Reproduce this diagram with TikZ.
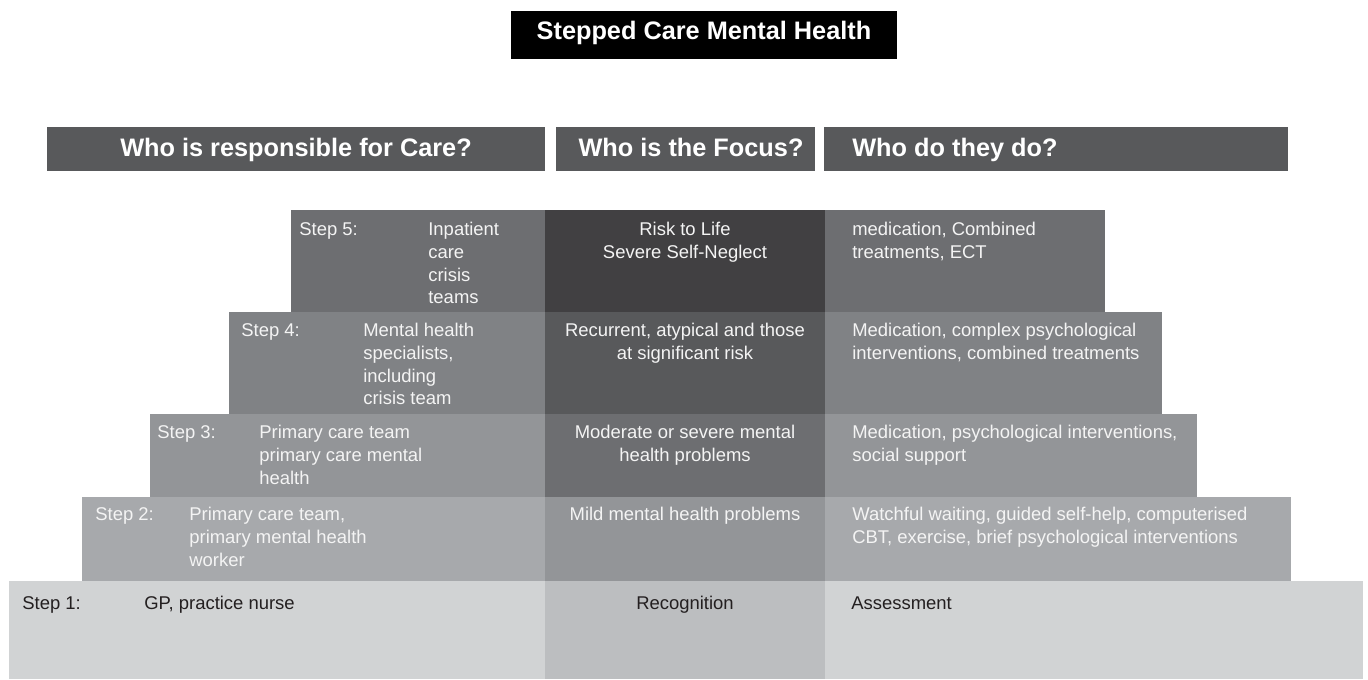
\documentclass[tikz,border=0pt]{standalone}
\usepackage{fontspec}
\setmainfont{Liberation Sans}
\definecolor{hdrgrey}{HTML}{58595B}
\definecolor{sideA}{HTML}{6D6E71}
\definecolor{midA}{HTML}{414042}
\definecolor{sideB}{HTML}{808285}
\definecolor{midB}{HTML}{58595B}
\definecolor{sideC}{HTML}{939598}
\definecolor{midC}{HTML}{6D6E71}
\definecolor{sideD}{HTML}{A7A9AC}
\definecolor{midD}{HTML}{939598}
\definecolor{sideE}{HTML}{D1D3D4}
\definecolor{midE}{HTML}{BCBEC0}
\definecolor{lighttext}{HTML}{F4F4F4}
\definecolor{darktext}{HTML}{231F20}

\begin{document}
\begin{tikzpicture}[x=0.02cm,y=-0.02cm]
\tikzset{hdr/.style = {inner sep=0, anchor=base, text=white, font=\fontsize{14.4}{17}\selectfont\bfseries}}
\tikzset{txt/.style = {inner sep=0, align=left, anchor=north west, text=lighttext, font=\fontsize{10.5}{12.9}\selectfont}}
\tikzset{midtxt/.style = {txt, align=center, anchor=north}}

\useasboundingbox (0,0) rectangle (1368,679);

% title
\fill[black] (511,11) rectangle (897,59);
\node[hdr] (title) at (704,40) {Stepped Care Mental Health};

% column headers
\fill[hdrgrey] (47,127) rectangle (545,171);
\fill[hdrgrey] (556,127) rectangle (815,171);
\fill[hdrgrey] (824,127) rectangle (1288,171);
\node[hdr] (who) at (296,156) {Who is responsible for Care?};
\node[hdr] (focus) at (691,156) {Who is the Focus?};
\node[hdr, anchor=base west] (what) at (852,156) {Who do they do?};

% steps: left/right/top/bottom/side colour/middle colour
\foreach \l/\r/\t/\b/\cs/\cm in {291/1105/210/312/sideA/midA,
    229/1162/312/414/sideB/midB, 150/1197/414/497/sideC/midC,
    82/1291/497/581/sideD/midD, 9/1363/581/679/sideE/midE}{
  \fill[\cs] (\l,\t) rectangle (\r,\b);
  \fill[\cm] (545,\t) rectangle (825,\b);
}

% step 5
\node[txt] (s5) at (299,222) {Step 5:};
\node[txt] (who5) at (428,222) {Inpatient\\care\\crisis\\teams};
\node[midtxt] (focus5) at (685,222) {Risk to Life\\Severe Self-Neglect};
\node[txt] (what5) at (852,222) {medication, Combined\\treatments, ECT};

% step 4
\node[txt] (s4) at (241,323) {Step 4:};
\node[txt] (who4) at (363,323) {Mental health\\specialists,\\including\\crisis team};
\node[midtxt] (focus4) at (685,323) {Recurrent, atypical and those\\at significant risk};
\node[txt] (what4) at (852,323) {Medication, complex psychological\\interventions, combined treatments};

% step 3
\node[txt] (s3) at (157,425) {Step 3:};
\node[txt] (who3) at (259,425) {Primary care team\\primary care mental\\health};
\node[midtxt] (focus3) at (685,425) {Moderate or severe mental\\health problems};
\node[txt] (what3) at (852,425) {Medication, psychological interventions,\\social support};

% step 2
\node[txt] (s2) at (95,507) {Step 2:};
\node[txt] (who2) at (189,507) {Primary care team,\\primary mental health\\worker};
\node[midtxt] (focus2) at (685,507) {Mild mental health problems};
\node[txt] (what2) at (852,507) {Watchful waiting, guided self-help, computerised\\CBT, exercise, brief psychological interventions};

% step 1
\node[txt, text=darktext] (s1) at (22,596) {Step 1:};
\node[txt, text=darktext] (who1) at (144,596) {GP, practice nurse};
\node[midtxt, text=darktext] (focus1) at (685,596) {Recognition};
\node[txt, text=darktext] (what1) at (851,596) {Assessment};

\end{tikzpicture}
\end{document}
